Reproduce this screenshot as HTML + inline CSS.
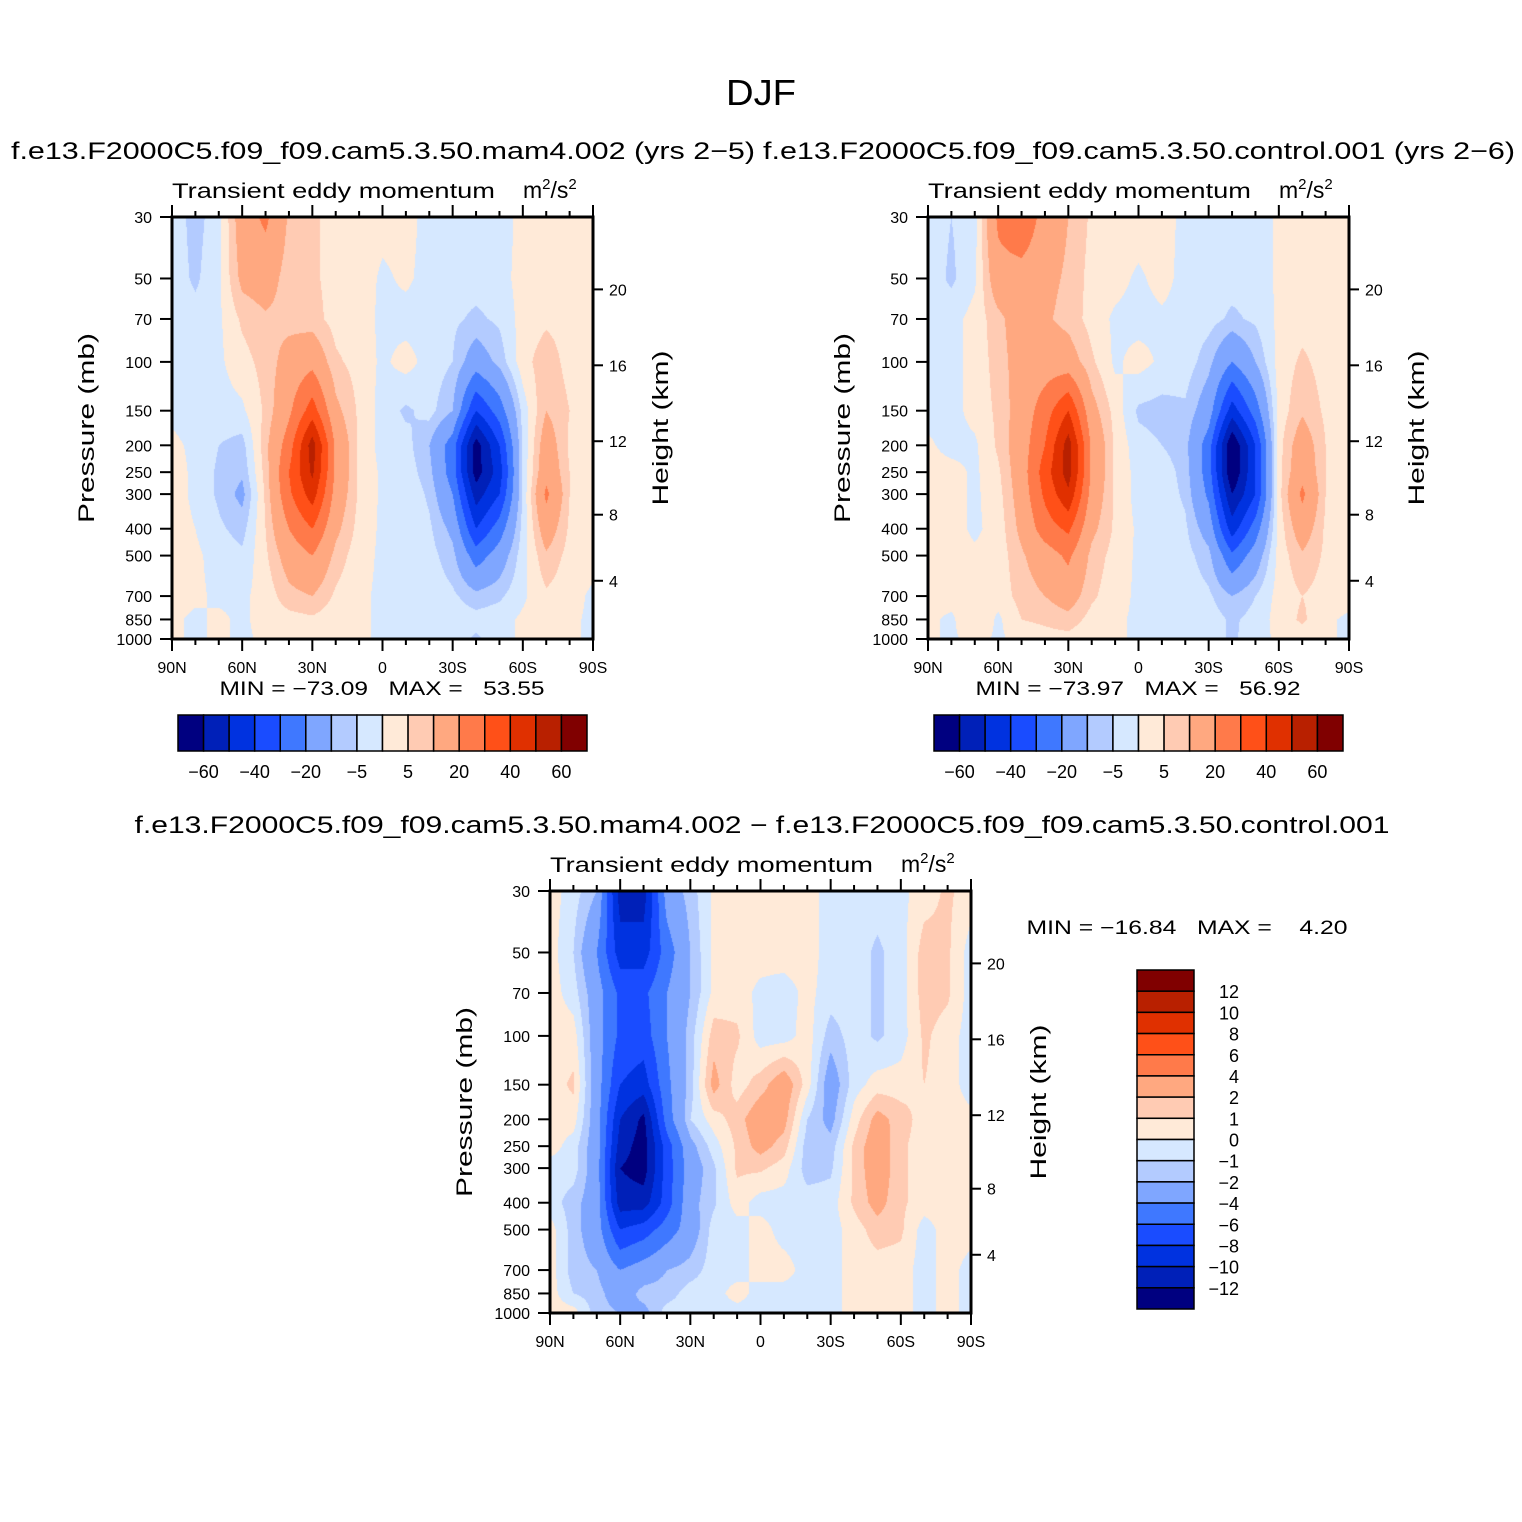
<!DOCTYPE html>
<html><head><meta charset="utf-8"><style>
html,body{margin:0;padding:0;background:#fff;}
#root{position:relative;width:1522px;height:1522px;overflow:hidden;background:#fff;font-family:"Liberation Sans",sans-serif;}
canvas{position:absolute;}
svg{position:absolute;left:0;top:0;}
text{font-family:"Liberation Sans",sans-serif;fill:#000;white-space:pre;}
</style></head><body>
<div id="root">
<canvas id="c1"></canvas>
<canvas id="c2"></canvas>
<canvas id="c3"></canvas>
<svg id="ov" width="1522" height="1522"></svg>
</div>
<script>
// ---- data ----
const lats = [90,80,70,60,50,40,30,20,10,0,-10,-20,-30,-40,-50,-60,-70,-80,-90];
const pLevels = [30,50,70,100,150,200,250,300,400,500,700,850,1000];
const absLevels = [-60,-50,-40,-30,-20,-10,-5,0,5,10,20,30,40,50,60];
const diffLevels = [-12,-10,-8,-6,-4,-2,-1,0,1,2,4,6,8,10,12];
const absTickLabels = ["−60","−40","−20","−5","5","20","40","60"];
const diffTickLabels = ["−12","−10","−8","−6","−4","−2","−1","0","1","2","4","6","8","10","12"];
const pTickLabels = [30,50,70,100,150,200,250,300,400,500,700,850,1000];
const heightTicks = [4,8,12,16,20];
const latTickLabels = ["90N","60N","30N","0","30S","60S","90S"];
const palette = ["#000080","#0020b8","#0032e0","#1a4cff","#3f78ff","#7fa6ff","#b3cbff","#d6e8ff","#ffead8","#ffcbb3","#ffa880","#ff7a4a","#ff5018","#e03000","#b82000","#800000"];

const mam4Values = [
[-2,-7,-2,15,22,9,6,3,3,2,2,-2,-3,-3,-3,2,3,2,2],
[-2,-6,-1,12,14,7,6,3,3,-1,1,-2,-3,-3,-2,2,3,3,2],
[-2,-3,-1,6,9,8,7,3,2,-1,-2,-2,-4,-6,-4,2,4,3,2],
[-2,-2,-1,3,7,13,17,6,3,-1,2,-2,-5,-15,-8,3,8,3,2],
[-1,-2,-2,-1,6,18,35,12,4,-2,-6,-3,-10,-40,-25,-3,10,5,2],
[1,-1,-5,-7,8,25,55,18,4,-2,-3,-10,-25,-65,-40,-4,15,4,2],
[2,-1,-6,-9,7,30,52,18,4,-1,-2,-8,-25,-65,-45,-4,17,5,2],
[2,-1,-6,-12,6,28,45,16,4,-1,-1,-6,-20,-55,-40,-4,22,5,2],
[2,0,-4,-7,5,20,30,12,3,-1,-1,-4,-12,-40,-25,-3,15,4,2],
[2,1,-2,-4,4,14,20,8,2,-1,-1,-3,-8,-25,-15,-2,9,3,2],
[2,1,-1,-1,2,8,10,4,1,-1,-1,-2,-4,-8,-6,-1,4,2,-1],
[1,-1,1,-1,2,3,4,2,1,-1,-1,-2,-2,-3,-2,1,3,1,-1],
[1,-1,1,-1,1,2,3,1,1,-1,-1,-1,-2,-6,-2,1,2,1,-1]];

const controlValues = [
[-2,-5,-2,22,30,15,10,4,3,3,3,-2,-3,-3,-3,1,3,3,3],
[-2,-6,-1,16,15,12,9,3,2,-1,2,-2,-3,-3,-3,1,3,3,3],
[-2,-2,2,8,15,11,8,3,-1,-2,-1,-2,-3,-6,-4,1,3,3,3],
[-2,-2,2,7,14,15,14,6,-1,2,-1,-2,-8,-20,-10,2,6,3,3],
[-2,-2,2,6,14,25,40,13,3,-6,-7,-6,-15,-45,-25,2,9,4,3],
[1,-2,-1,6,15,30,55,18,4,-3,-5,-8,-25,-70,-40,3,15,5,3],
[2,2,-1,4,15,35,55,18,4,-2,-2,-7,-25,-70,-40,3,17,5,3],
[2,2,-1,3,14,32,48,16,4,-2,-2,-6,-22,-60,-40,3,22,5,3],
[2,2,-1,2,12,25,32,12,4,-1,-1,-4,-14,-45,-25,2,15,4,3],
[2,2,1,2,9,15,22,8,3,-1,-1,-3,-8,-28,-15,2,9,4,2],
[2,2,2,2,7,10,14,6,2,-1,-1,-2,-4,-10,-5,2,5,3,2],
[1,-1,5,-1,5,6,8,3,1,-1,-1,-2,-2,-6,-3,2,6,1,-1],
[1,-1,2,-1,2,3,3,1,1,-1,-1,-1,-2,-6,-2,1,2,1,-1]];

const diffValues = [
[0.5,-0.5,-2,-11,-11,-3,-1.5,0.2,0.5,0.5,0.5,0.5,-0.5,-0.5,-0.5,-0.3,0.5,1.2,0.5],
[0.5,-1,-4,-9,-9,-5,-2,0.3,0.5,0.5,0.5,0.5,-0.5,-0.5,-1.2,-0.5,1.5,1.2,-0.5],
[0.5,-0.5,-3,-6.5,-6.5,-4,-2,0.3,0.5,-0.3,-0.5,0.3,-0.5,-0.5,-1.2,-0.5,1.5,1.2,-0.5],
[0.5,0.5,-3,-6.5,-7,-4,-1.5,1.5,1.2,-0.5,-0.5,0.5,-1.5,-0.5,-1.2,-0.5,1.2,0.5,-0.5],
[0.5,1.2,-3,-8,-9,-4.5,-1.5,2.5,0.5,1.5,3,0.5,-3,-0.5,0.5,0.5,1,0.5,-0.5],
[0.5,0.5,-3,-10,-12.5,-5,-1,0.5,1.5,3,2.5,-1,-2.5,0.5,2.5,1.5,0.5,0.5,0.3],
[0.5,-0.5,-3,-11,-13,-7,-2.5,-0.5,1.2,2.5,1.5,-1.5,-1.5,1.2,3,1.2,0.5,0.5,0.5],
[-0.5,-0.5,-3,-12,-13,-7,-3,-1.2,1.2,1.2,0.5,-1.5,-1.2,1.2,3,1.2,0.5,0.5,0.5],
[-0.5,-1.5,-3,-11,-11,-7,-2.5,-1.2,0.5,-0.5,-0.5,-0.5,-0.5,1.2,2.5,1.2,0.5,0.5,0.5],
[0.5,-1.5,-3,-8,-7,-5,-3,-0.5,-0.5,0.5,-0.5,-0.5,-0.5,0.5,1.5,1.2,-0.5,0.5,0.5],
[0.5,-1.5,-2,-4,-3,-2,-1.5,-0.5,-0.5,0.5,0.5,-0.5,-0.5,0.5,0.5,0.5,-0.5,0.5,-0.5],
[0.5,-1,-1.5,-3,-1.5,-1.5,-0.5,-0.5,0.5,-0.5,-0.5,-0.5,-0.5,0.5,0.5,0.5,-0.5,0.5,-0.5],
[0.5,0.5,-1.5,-2,-2.5,-0.5,-0.5,-0.5,-0.5,-0.5,-0.5,-0.5,-0.5,0.5,0.5,0.5,-0.5,0.5,-0.5]];

// ---- geometry ----
const PW = 421, PH = 422;
const panels = [
 {id:'c1', x:172, y:217, vals:mam4Values, levels:absLevels, name:'mam4'},
 {id:'c2', x:928, y:217, vals:controlValues, levels:absLevels, name:'control'},
 {id:'c3', x:550, y:891, vals:diffValues, levels:diffLevels, name:'difference'}
];
const LNR = Math.log(1000/30);
function yOfP(p, top){ return top + PH - Math.log(1000/p)/LNR*PH; }
function xOfLat(lat, left){ return left + (90-lat)/180*PW; }
function pOfZ(zkm){ const z=zkm*1000; if(z<=11000) return 1013.25*Math.pow(1-2.25577e-5*z,5.25588); return 226.32*Math.exp(-(z-11000)/6341.6); }
const lnP = pLevels.map(p=>Math.log(p));
function sample(vals, lat, p){
  let fc=(90-lat)/10; let c0=Math.min(17,Math.max(0,Math.floor(fc))); let tc=fc-c0;
  const lp=Math.log(p); let r0=0; while(r0<lnP.length-2 && lp>lnP[r0+1]) r0++;
  let tr=(lp-lnP[r0])/(lnP[r0+1]-lnP[r0]); tr=Math.max(0,Math.min(1,tr));
  const a=vals[r0][c0], b=vals[r0][c0+1], c=vals[r0+1][c0], d=vals[r0+1][c0+1];
  return (a*(1-tc)+b*tc)*(1-tr)+(c*(1-tc)+d*tc)*tr;
}
function binOf(v, levels){ let k=0; while(k<levels.length && v>=levels[k]) k++; return k; }
function hex(h){ return [parseInt(h.substr(1,2),16),parseInt(h.substr(3,2),16),parseInt(h.substr(5,2),16)]; }
const rgb = palette.map(hex);

panels.forEach(pn=>{
  const cv=document.getElementById(pn.id);
  cv.width=PW; cv.height=PH; cv.style.left=pn.x+'px'; cv.style.top=pn.y+'px';
  const ctx=cv.getContext('2d'); const img=ctx.createImageData(PW,PH);
  for(let j=0;j<PH;j++){
    const p=1000*Math.exp(-(PH-j-0.5)/PH*LNR);
    for(let i=0;i<PW;i++){
      const lat=90-(i+0.5)/PW*180;
      const k=binOf(sample(pn.vals,lat,p),pn.levels);
      const o=(j*PW+i)*4; img.data[o]=rgb[k][0]; img.data[o+1]=rgb[k][1]; img.data[o+2]=rgb[k][2]; img.data[o+3]=255;
    }
  }
  ctx.putImageData(img,0,0);
});

// ---- overlay ----
const svg=document.getElementById('ov'); const NS='http://www.w3.org/2000/svg';
function mk(tag, attrs, parent){ const e=document.createElementNS(NS,tag); for(const k in attrs) e.setAttribute(k,attrs[k]); (parent||svg).appendChild(e); return e; }
function txt(str, x, y, size, anchor, parent, len){ const t=mk('text',{x:x,y:y,'font-size':size,'text-anchor':anchor||'middle'},parent); if(len){t.setAttribute('textLength',len);t.setAttribute('lengthAdjust','spacingAndGlyphs');} t.textContent=str; return t; }

let t;
t=txt('DJF',761,105,36,'middle',null,70);


t=txt('f.e13.F2000C5.f09_f09.cam5.3.50.mam4.002 (yrs 2−5)',383,159,24,'middle',null,744);


t=txt('f.e13.F2000C5.f09_f09.cam5.3.50.control.001 (yrs 2−6)',1139,159,24,'middle',null,752);


t=txt('f.e13.F2000C5.f09_f09.cam5.3.50.mam4.002 − f.e13.F2000C5.f09_f09.cam5.3.50.control.001',762,833,24,'middle',null,1255);



const minmax=[['MIN = −73.09   MAX =   53.55',382,695,325],['MIN = −73.97   MAX =   56.92',1138,695,325],['MIN = −16.84   MAX =    4.20',1187,934,321]];

panels.forEach((pn,idx)=>{
  const g=mk('g',{});
  
  
  const L=pn.x, T=pn.y, R=pn.x+PW, B=pn.y+PH;
  let s=txt('Transient eddy momentum',L,T-19,21,'start',g,323);
  
  
  s=mk('text',{x:R-70,y:T-19,'font-size':23},g);
  s.innerHTML='m<tspan dy="-9" font-size="15">2</tspan><tspan dy="9">/s</tspan><tspan dy="-9" font-size="15">2</tspan>';
  
  
  for(let lat=90;lat>=-90;lat-=10){
    const x=xOfLat(lat,L); const major=(lat%30===0); const len=major?12:6;
    mk('line',{x1:x,y1:T,x2:x,y2:T-len,stroke:'#000','stroke-width':2},g);
    mk('line',{x1:x,y1:B,x2:x,y2:B+len,stroke:'#000','stroke-width':2},g);
  }
  latTickLabels.forEach((lb,i)=>{ const x=xOfLat(90-30*i,L); const e=txt(lb,x,B+34,16,'middle',g);
    
     });
  pTickLabels.forEach(p=>{ const y=yOfP(p,T); mk('line',{x1:L,y1:y,x2:L-12,y2:y,stroke:'#000','stroke-width':2},g);
    const e=txt(String(p),L-20,y+6,16,'end',g);
    
     });
  heightTicks.forEach(z=>{ const y=yOfP(pOfZ(z),T); mk('line',{x1:R,y1:y,x2:R+10,y2:y,stroke:'#000','stroke-width':2},g);
    const e=txt(String(z),R+16,y+6,16,'start',g);
    
     });
  mk('rect',{x:L,y:T,width:PW,height:PH,fill:'none',stroke:'#000','stroke-width':3},g);
  let a=txt('Pressure (mb)',0,0,22,'middle',g,190); a.setAttribute('transform','translate('+(L-78)+','+(T+211)+') rotate(-90)');
  
  
  a=txt('Height (km)',0,0,22,'middle',g,155); a.setAttribute('transform','translate('+(R+75)+','+(T+211)+') rotate(-90)');
  
  
  const mm=minmax[idx]; a=txt(mm[0],mm[1],mm[2],19,'middle',g,mm[3]);
  
  
});

[178,934].forEach((cx,ci)=>{
  const g=mk('g',{});
  
  
  const w=(587-178)/16;
  palette.forEach((col,i)=>{ const r=mk('rect',{x:cx+i*w,y:715,width:w,height:36,fill:col,stroke:'#000','stroke-width':1.5},g);
    
     });
  absTickLabels.forEach((lb,i)=>{ const e=txt(lb,cx+(2*i+1)*w,778,18,'middle',g);
    
     });
});
(function(){
  const g=mk('g',{});
  
  
  const top=970, bot=1309, h=(bot-top)/16;
  for(let i=0;i<16;i++){ const r=mk('rect',{x:1137,y:top+i*h,width:57,height:h,fill:palette[15-i],stroke:'#000','stroke-width':1.5},g);
    
     }
  for(let i=0;i<15;i++){ const e=txt(diffTickLabels[14-i],1239,top+(i+1)*h+7,18,'end',g);
    
     }
})();
</script>
</body></html>
